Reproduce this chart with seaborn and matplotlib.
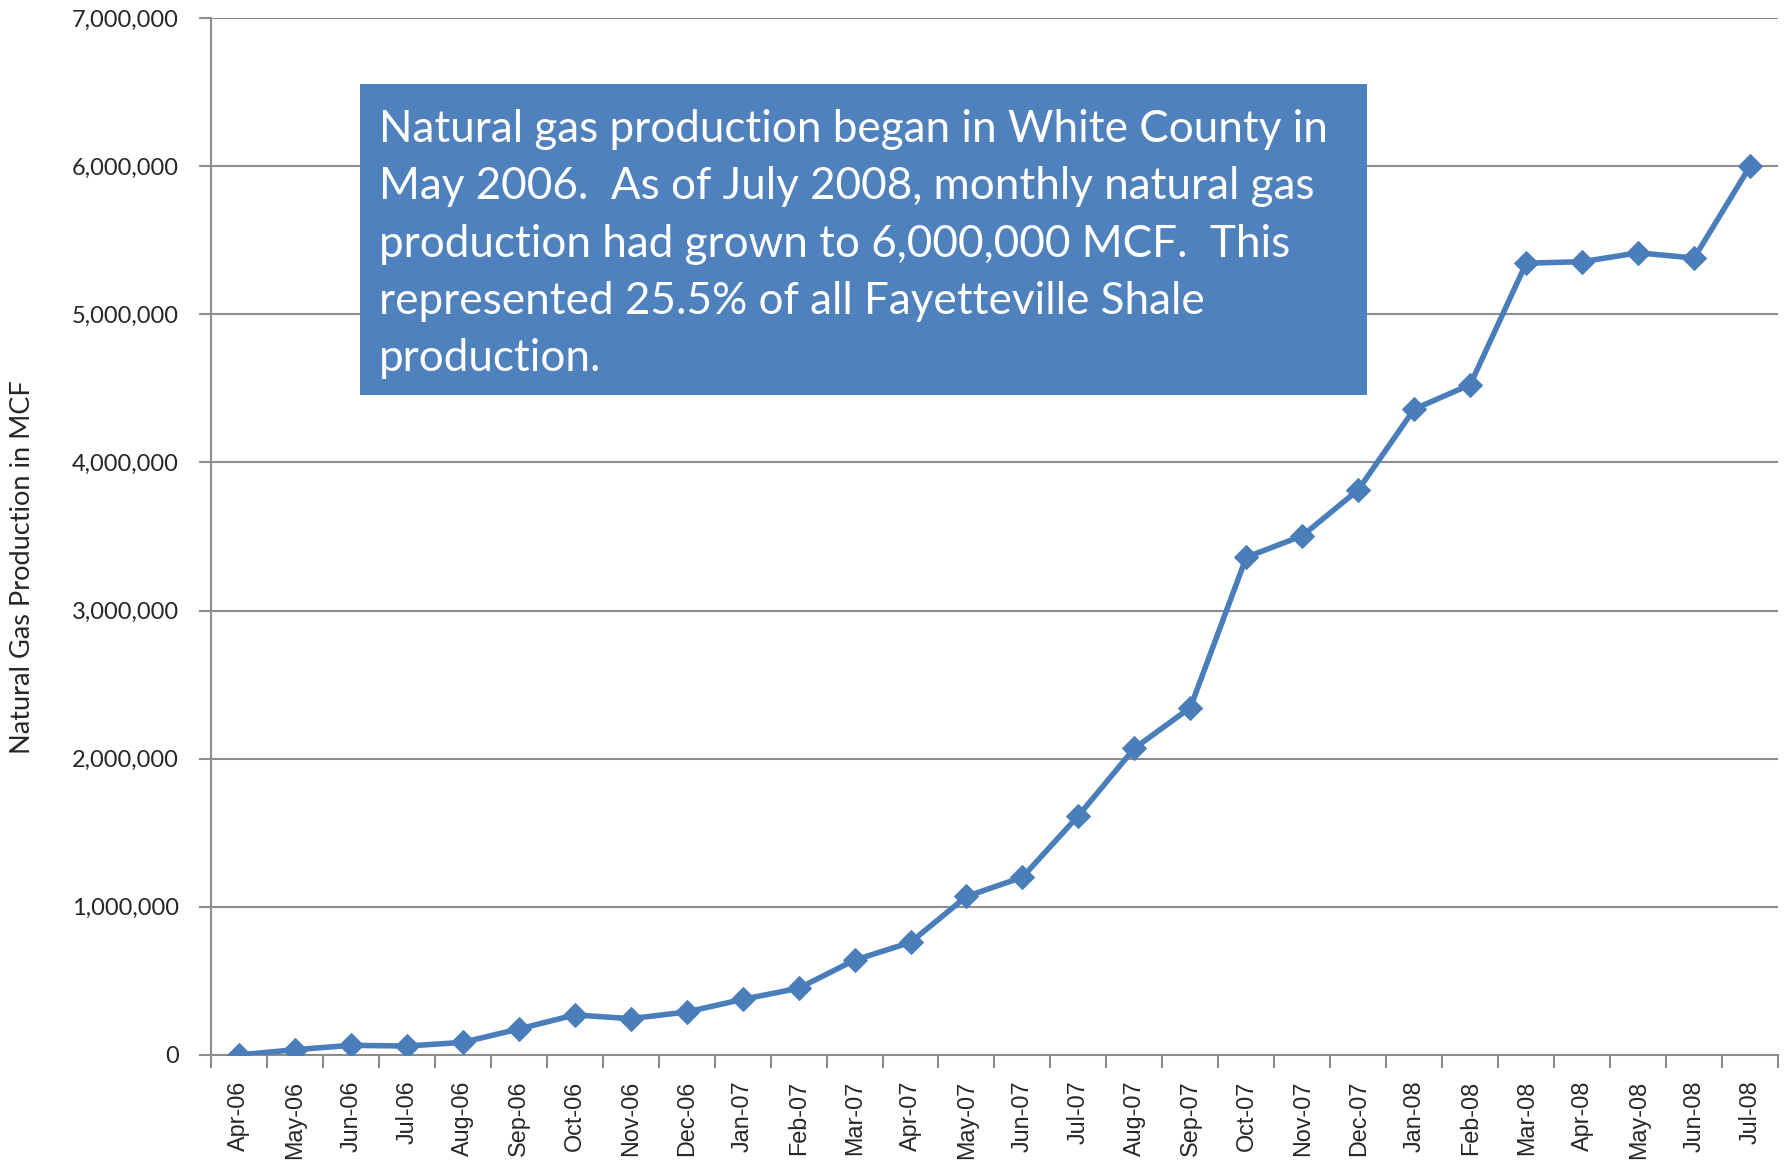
"""
White County natural gas production, Apr-06 to Jul-08.
"""

import numpy as np
import pandas as pd
import matplotlib
matplotlib.use('Agg')
import matplotlib.pyplot as plt
import seaborn as sns
from matplotlib.patches import Rectangle
from matplotlib.ticker import FuncFormatter, FixedLocator

months = ['Apr-06', 'May-06', 'Jun-06', 'Jul-06', 'Aug-06', 'Sep-06', 'Oct-06',
          'Nov-06', 'Dec-06', 'Jan-07', 'Feb-07', 'Mar-07', 'Apr-07', 'May-07',
          'Jun-07', 'Jul-07', 'Aug-07', 'Sep-07', 'Oct-07', 'Nov-07', 'Dec-07',
          'Jan-08', 'Feb-08', 'Mar-08', 'Apr-08', 'May-08', 'Jun-08', 'Jul-08']
production_mcf = [0, 35000, 65000, 60000, 85000, 175000, 270000,
                  245000, 290000, 375000, 450000, 640000, 760000, 1070000,
                  1200000, 1615000, 2070000, 2345000, 3360000, 3505000, 3815000,
                  4360000, 4525000, 5345000, 5355000, 5415000, 5380000, 6000000]
y_ticks = [0, 1000000, 2000000, 3000000, 4000000, 5000000, 6000000, 7000000]

note = ("Natural gas production began in White County in\n"
        "May 2006.  As of July 2008, monthly natural gas\n"
        "production had grown to 6,000,000 MCF.  This\n"
        "represented 25.5% of all Fayetteville Shale\n"
        "production.")

blue = '#4A7EBB'
box_blue = '#4F81BD'
grey = '#8C8C8C'

sns.set_theme(style='white')
plt.rcParams['font.family'] = ['Lato', 'DejaVu Sans']

df = pd.DataFrame({'pos': np.arange(len(months)), 'mcf': production_mcf})

fig = plt.figure(figsize=(17.87, 11.64), dpi=100)
ax = fig.add_axes([0.118, 0.0937, 0.877, 0.8908])

sns.lineplot(data=df, x='pos', y='mcf', ax=ax, color=blue, linewidth=4,
             marker='D', markersize=12, markeredgecolor=blue, sort=False,
             zorder=3)

ax.set_xlim(-0.5, len(months) - 0.5)
ax.set_ylim(0, 7000000)
ax.set_yticks(y_ticks)
ax.yaxis.set_major_formatter(FuncFormatter(lambda v, p: f'{int(v):,}'))
ax.yaxis.grid(True, color=grey, linewidth=1.5)
ax.set_axisbelow(True)

# category labels at centres, tick marks between categories (Excel style)
ax.set_xticks(df['pos'])
ax.set_xticklabels(months, rotation=90, fontsize=16.8,
                   family=['Liberation Sans', 'DejaVu Sans'])
ax.xaxis.set_minor_locator(FixedLocator(np.arange(-0.5, len(months), 1.0)))
ax.tick_params(axis='x', which='major', length=0, pad=18.5)
ax.tick_params(axis='x', which='minor', length=9, width=1.5, color=grey,
               direction='out', bottom=True)
ax.tick_params(axis='y', which='major', length=9, width=1.5, color=grey,
               direction='out', left=True, labelsize=17, pad=14)

for side in ['top', 'right']:
    ax.spines[side].set_visible(False)
for side in ['left', 'bottom']:
    ax.spines[side].set_color(grey)
    ax.spines[side].set_linewidth(1.5)

ax.set_xlabel('')
ax.set_ylabel('Natural Gas Production in MCF', fontsize=19.5, va='center')
ax.yaxis.set_label_coords(-0.12, 0.4706)

# annotation box
ax.add_patch(Rectangle((0.095, 0.6365), 0.643, 0.30, transform=ax.transAxes,
                       facecolor=box_blue, edgecolor='none', zorder=5))
ax.text(0.1075, 0.912, note, transform=ax.transAxes, ha='left', va='top',
        fontsize=31.7, color='white', linespacing=1.49, zorder=6)

fig.savefig('out.png', dpi=100)
